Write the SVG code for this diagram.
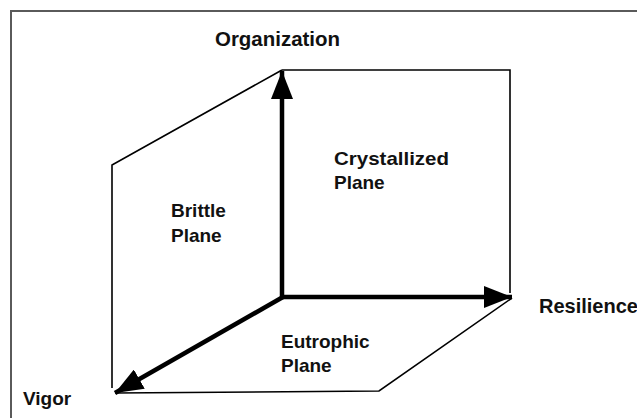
<svg xmlns="http://www.w3.org/2000/svg" width="637" height="418" viewBox="0 0 637 418">
<style>
.frame{fill:none;stroke:#5a5a5a;stroke-width:2}
.thin{fill:none;stroke:#000;stroke-width:1.6;stroke-linejoin:miter}
.axis{fill:none;stroke:#000;stroke-width:4.5}
.lbl{font-family:"Liberation Sans",Arial,sans-serif;font-weight:bold;font-size:19px;fill:#111}
</style>
<defs>
<marker id="ah" markerUnits="userSpaceOnUse" markerWidth="30" markerHeight="22" refX="28" refY="11" orient="auto">
<path d="M0,0 L28,11 L0,22 Z" fill="#000"/>
</marker>
</defs>
<rect width="637" height="418" fill="#fff"/>
<path class="frame" d="M11,420 V11 H640"/>
<g id="crystallized-plane">
<path class="thin" d="M282,70 H510 V293"/>
<text class="lbl" x="334" y="165" textLength="115" lengthAdjust="spacingAndGlyphs">Crystallized</text>
<text class="lbl" x="334" y="189">Plane</text>
</g>
<g id="brittle-plane">
<path class="thin" d="M282,70 L112,165 V388"/>
<text class="lbl" x="171" y="217">Brittle</text>
<text class="lbl" x="171" y="242">Plane</text>
</g>
<g id="eutrophic-plane">
<path class="thin" d="M115,393 L379,391 L512,298"/>
<text class="lbl" x="281" y="348">Eutrophic</text>
<text class="lbl" x="281" y="372">Plane</text>
</g>
<g id="connectors">
<line class="axis" x1="282" y1="299" x2="282" y2="71" marker-end="url(#ah)"/>
<line class="axis" x1="280" y1="297" x2="512" y2="297" marker-end="url(#ah)"/>
<line class="axis" x1="283" y1="297" x2="115" y2="393" marker-end="url(#ah)"/>
</g>
<g id="organization">
<text class="lbl" x="215" y="46" style="font-size:20px" textLength="125" lengthAdjust="spacingAndGlyphs">Organization</text>
</g>
<g id="resilience">
<text class="lbl" x="539" y="313" style="font-size:20px">Resilience</text>
</g>
<g id="vigor">
<text class="lbl" x="23" y="405">Vigor</text>
</g>
</svg>
